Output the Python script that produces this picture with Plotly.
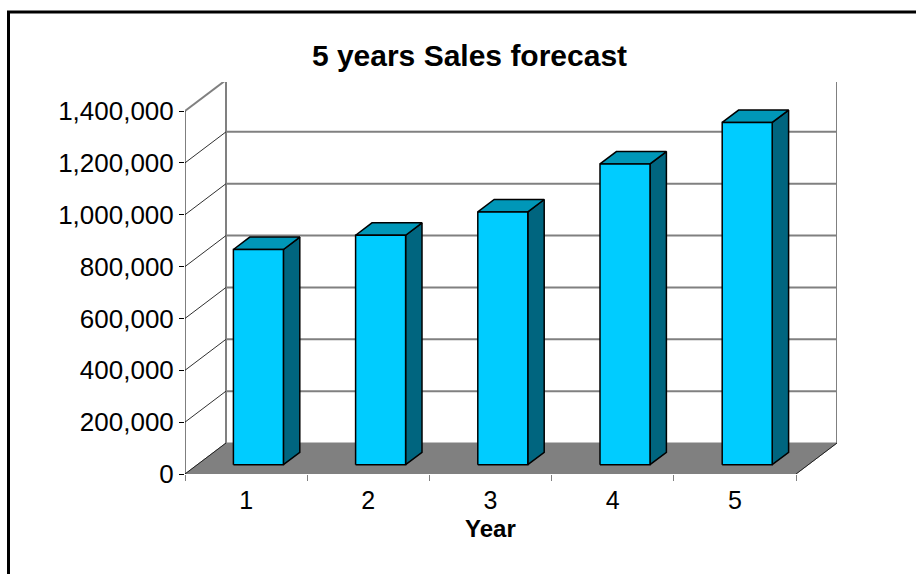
import plotly.graph_objects as go

# ---- data ----
years = [1, 2, 3, 4, 5]
year_labels = ["1", "2", "3", "4", "5"]
sales = [830000, 885000, 975000, 1160000, 1320000]
y_ticks = [0, 200000, 400000, 600000, 800000, 1000000, 1200000, 1400000]
y_tick_text = ["0", "200,000", "400,000", "600,000", "800,000", "1,000,000", "1,200,000", "1,400,000"]
title_text = "5 years Sales forecast"
x_title = "Year"

# ---- layout geometry (pixels) ----
W, H = 916, 574
L, R, T, B = 185, 916 - 837, 82, 574 - 474
plot_w = W - L - R
plot_h = H - T - B
y_top = 1400000
px_per_x = 611 / 5.0
units_per_px_y = y_top / 363.0
DX = 41 / px_per_x          # wall depth in x units
DY = 31 * units_per_px_y    # wall depth in y units
x_min, x_max = 0.5, 0.5 + plot_w / px_per_x
y_max = plot_h * units_per_px_y

f_front, f_back = 0.30, 0.70
half_w = 25 / px_per_x

fig = go.Figure()

def add_lines(xs, ys, color, width):
    fig.add_trace(go.Scatter(x=xs, y=ys, mode="lines", line=dict(color=color, width=width),
                             hoverinfo="skip", showlegend=False))

def add_poly(xs, ys, fill, lc, lw):
    fig.add_trace(go.Scatter(x=xs, y=ys, mode="lines", fill="toself", fillcolor=fill,
                             line=dict(color=lc, width=lw), hoverinfo="skip", showlegend=False))

# back wall gridlines
gx, gy = [], []
for v in y_ticks[1:]:
    gx += [x_min + DX, 5.5 + DX, None]
    gy += [v + DY, v + DY, None]
add_lines(gx, gy, "#808080", 2)
# back wall verticals
add_lines([x_min + DX, x_min + DX, None, 5.5 + DX, 5.5 + DX],
          [DY, y_top + DY, None, DY, y_top + DY], "#808080", 2)
# side wall diagonals
dx_, dy_ = [], []
for v in y_ticks[1:-1]:
    dx_ += [x_min, x_min + DX, None]
    dy_ += [v, v + DY, None]
add_lines(dx_, dy_, "#303030", 1)
add_lines([x_min, x_min + DX], [y_top, y_top + DY], "#808080", 2)

# floor
add_poly([0.5, 5.5, 5.5 + DX, 0.5 + DX, 0.5], [0, 0, DY, DY, 0], "#808080", "#808080", 1)
add_lines([5.5, 5.5 + DX], [0, DY], "#202020", 1)
add_lines([0.5, 0.5 + DX], [0, DY], "#202020", 1)

# y axis line
add_lines([x_min, x_min], [0, y_top], "#000000", 1)

# bars
fx, fy, tx, ty, sx, sy = [], [], [], [], [], []
for xc, v in zip(years, sales):
    ox, oy = f_front * DX, f_front * DY
    bx, by = f_back * DX, f_back * DY
    x0, x1 = xc - half_w + ox, xc + half_w + ox
    fx += [x0, x1, x1, x0, x0, None]
    fy += [oy, oy, v + oy, v + oy, oy, None]
    dxb, dyb = bx - ox, by - oy
    tx += [x0, x1, x1 + dxb, x0 + dxb, x0, None]
    ty += [v + oy, v + oy, v + by, v + by, v + oy, None]
    sx += [x1, x1 + dxb, x1 + dxb, x1, x1, None]
    sy += [oy, by, v + by, v + oy, oy, None]
add_poly(sx, sy, "#00657F", "#000000", 1.5)
add_poly(tx, ty, "#0097B8", "#000000", 1.5)
add_poly(fx, fy, "#00CCFF", "#000000", 1.5)

font = "Liberation Sans, Arial, sans-serif"

def px_to_paper_x(p):
    return (p - L) / plot_w

def px_to_paper_y(p):
    return (H - B - p) / plot_h

fig.add_shape(type="rect", xref="paper", yref="paper",
              x0=px_to_paper_x(8.5), x1=px_to_paper_x(930),
              y0=px_to_paper_y(590), y1=px_to_paper_y(12),
              line=dict(color="#000000", width=3), layer="below")

fig.add_annotation(x=3, xref="x", y=0, yref="paper", yshift=-54, text="<b>" + x_title + "</b>",
                   showarrow=False, font=dict(family=font, size=24, color="#000"), yanchor="middle")

fig.update_layout(
    width=W, height=H,
    margin=dict(l=L, r=R, t=T, b=B),
    paper_bgcolor="white", plot_bgcolor="white",
    title=dict(text="<b>" + title_text + "</b>", xref="container", yref="container",
               x=469.5 / W, y=1 - 55 / H, xanchor="center", yanchor="middle",
               font=dict(family=font, size=30, color="#000")),
    xaxis=dict(range=[x_min, x_max], tickmode="array", tickvals=years, ticktext=year_labels,
               ticks="", showgrid=False, zeroline=False, showline=False,
               ticklabelstandoff=9,
               tickfont=dict(family=font, size=25, color="#000"),
               minor=dict(tickmode="array", tickvals=[0.5, 1.5, 2.5, 3.5, 4.5, 5.5],
                          ticks="outside", ticklen=6, tickcolor="#808080", tickwidth=1, showgrid=False),
               fixedrange=True),
    yaxis=dict(range=[0, y_max], tickmode="array", tickvals=y_ticks, ticktext=y_tick_text,
               ticks="outside", ticklen=5, tickcolor="#000", tickwidth=1,
               showgrid=False, zeroline=False, showline=False,
               tickfont=dict(family=font, size=26, color="#000"), fixedrange=True),
)

fig.write_html("out.html")
